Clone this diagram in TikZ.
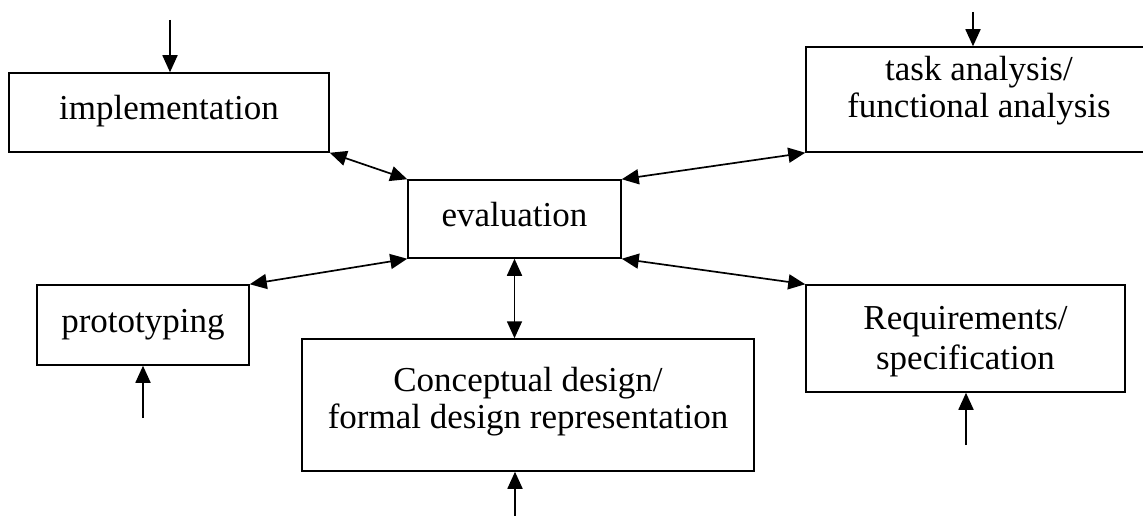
\documentclass[tikz,border=0pt]{standalone}
\usepackage{fontspec}
\setmainfont{Liberation Serif}
\usetikzlibrary{arrows.meta}
\begin{document}
\begin{tikzpicture}[x=1pt, y=-1pt, line width=1.7pt,
    box/.style={draw, rectangle, line width=1.5pt, inner sep=0pt},
    lbl/.style={align=center, inner sep=0pt, font=\fontsize{35}{37}\selectfont},
    >={Triangle[length=17pt,width=15pt]}]
    \clip (0,0) rectangle (1143,516);

    % Central stage
    \node[box, minimum width=213pt, minimum height=78pt] (eval) at (514.5,219) {};
    \node[lbl] (evaltext) at (514.5,215) {evaluation};

    % Upper stages
    \node[box, minimum width=320pt, minimum height=79pt] (impl) at (169,112.5) {};
    \node[lbl] (impltext) at (169,111) {implementation};
    \node[box, minimum width=346pt, minimum height=105pt] (task) at (979,99.5) {};
    \node[lbl] (tasktext) at (979,91) {task analysis/\\functional analysis};

    % Lower stages
    \node[box, minimum width=212pt, minimum height=80pt] (proto) at (143,325) {};
    \node[lbl] (prototext) at (143,325) {prototyping};
    \node[box, minimum width=452pt, minimum height=132pt] (concept) at (528,405) {};
    \node[lbl] (concepttext) at (528,402) {Conceptual design/\\formal design representation};
    \node[box, minimum width=319pt, minimum height=107pt] (req) at (965.5,338.5) {};
    \node[lbl, font=\fontsize{35}{40}\selectfont] (reqtext) at (965.5,342) {Requirements/\\specification};

    % Connections to evaluation
    \draw[<->] (impl.south east) -- (eval.north west);
    \draw[<->] (eval.north east) -- (task.south west);
    \draw[<->] (proto.north east) -- (eval.south west);
    \draw[<->] (eval.south east) -- (req.north west);
    \draw[<->] (eval.south) -- (eval.south |- concept.north);

    % External entries
    \coordinate (implin) at (170,20);
    \coordinate (taskin) at (973,12);
    \coordinate (protoin) at (143,418);
    \coordinate (conceptin) at (515,530);
    \coordinate (reqin) at (966,445);

    \draw[->] (implin) -- (implin |- impl.north);
    \draw[->] (taskin) -- (taskin |- task.north);
    \draw[->] (protoin) -- (protoin |- proto.south);
    \draw[->] (conceptin) -- (conceptin |- concept.south);
    \draw[->] (reqin) -- (reqin |- req.south);
\end{tikzpicture}
\end{document}
